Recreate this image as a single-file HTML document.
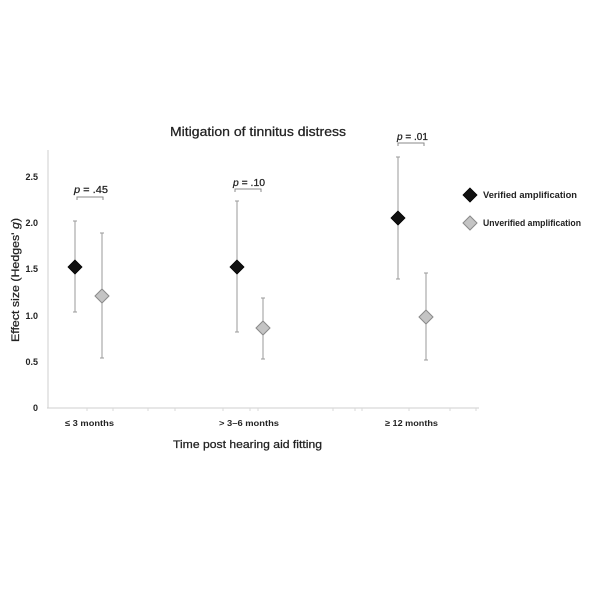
<!DOCTYPE html>
<html>
<head>
<meta charset="utf-8">
<style>
html,body{margin:0;padding:0;background:#fff;}
svg{display:block;}
text{font-family:"Liberation Sans",sans-serif;fill:#222;}
.med{stroke:#222;stroke-width:0.25;}
</style>
</head>
<body>
<svg width="600" height="600" viewBox="0 0 600 600" xmlns="http://www.w3.org/2000/svg">
<rect width="600" height="600" fill="#fff"/>
<!-- title -->
<text class="med" x="170" y="136" font-size="12.5" textLength="176" lengthAdjust="spacingAndGlyphs">Mitigation of tinnitus distress</text>
<!-- axes -->
<line x1="48" y1="150" x2="48" y2="408" stroke="#cfcfcf" stroke-width="1"/>
<line x1="47" y1="408" x2="479" y2="408" stroke="#cfcfcf" stroke-width="1"/>
<g stroke="#d8d8d8" stroke-width="1">
<line x1="87" y1="408" x2="87" y2="411"/>
<line x1="113" y1="408" x2="113" y2="411"/>
<line x1="148" y1="408" x2="148" y2="411"/>
<line x1="175" y1="408" x2="175" y2="411"/>
<line x1="223" y1="408" x2="223" y2="411"/>
<line x1="250" y1="408" x2="250" y2="411"/>
<line x1="258" y1="408" x2="258" y2="411"/>
<line x1="333" y1="408" x2="333" y2="411"/>
<line x1="355" y1="408" x2="355" y2="411"/>
<line x1="362" y1="408" x2="362" y2="411"/>
<line x1="409" y1="408" x2="409" y2="411"/>
<line x1="450" y1="408" x2="450" y2="411"/>
<line x1="476" y1="408" x2="476" y2="411"/>
</g>
<!-- y tick labels -->
<g font-size="9" font-weight="bold" text-anchor="end">
<text x="38" y="180">2.5</text>
<text x="38" y="226">2.0</text>
<text x="38" y="272">1.5</text>
<text x="38" y="319">1.0</text>
<text x="38" y="365">0.5</text>
<text x="38" y="411">0</text>
</g>
<!-- y axis title -->
<text class="med" transform="translate(19,280) rotate(-90)" font-size="11" text-anchor="middle" textLength="124" lengthAdjust="spacingAndGlyphs">Effect size (Hedges' <tspan font-style="italic">g</tspan>)</text>
<!-- x tick labels -->
<g font-size="8.5" font-weight="bold">
<text x="65" y="426" textLength="49" lengthAdjust="spacingAndGlyphs">≤ 3 months</text>
<text x="219" y="426" textLength="60" lengthAdjust="spacingAndGlyphs">&gt; 3–6 months</text>
<text x="385" y="426" textLength="53" lengthAdjust="spacingAndGlyphs">≥ 12 months</text>
</g>
<!-- x title -->
<text class="med" x="173" y="448" font-size="11" textLength="149" lengthAdjust="spacingAndGlyphs">Time post hearing aid fitting</text>
<!-- error bars -->
<g stroke="#9a9a9a" stroke-width="1">
<line x1="75" y1="221" x2="75" y2="312"/><line x1="73" y1="221" x2="77" y2="221"/><line x1="73" y1="312" x2="77" y2="312"/>
<line x1="102" y1="233" x2="102" y2="358"/><line x1="100" y1="233" x2="104" y2="233"/><line x1="100" y1="358" x2="104" y2="358"/>
<line x1="237" y1="201" x2="237" y2="332"/><line x1="235" y1="201" x2="239" y2="201"/><line x1="235" y1="332" x2="239" y2="332"/>
<line x1="263" y1="298" x2="263" y2="359"/><line x1="261" y1="298" x2="265" y2="298"/><line x1="261" y1="359" x2="265" y2="359"/>
<line x1="398" y1="157" x2="398" y2="279"/><line x1="396" y1="157" x2="400" y2="157"/><line x1="396" y1="279" x2="400" y2="279"/>
<line x1="426" y1="273" x2="426" y2="360"/><line x1="424" y1="273" x2="428" y2="273"/><line x1="424" y1="360" x2="428" y2="360"/>
</g>
<!-- markers -->
<g fill="#111" stroke="#000" stroke-width="0.8">
<path d="M75 260 L82 267 L75 274 L68 267 Z"/>
<path d="M237 260 L244 267 L237 274 L230 267 Z"/>
<path d="M398 211 L405 218 L398 225 L391 218 Z"/>
</g>
<g fill="#c4c4c4" stroke="#8a8a8a" stroke-width="1">
<path d="M102 289 L109 296 L102 303 L95 296 Z"/>
<path d="M263 321 L270 328 L263 335 L256 328 Z"/>
<path d="M426 310 L433 317 L426 324 L419 317 Z"/>
</g>
<!-- p brackets -->
<g stroke="#8a8a8a" stroke-width="1" fill="none">
<path d="M77 200 L77 197 L103 197 L103 200"/>
<path d="M235 192 L235 189 L261 189 L261 192"/>
<path d="M398 146 L398 143 L424 143 L424 146"/>
</g>
<g font-size="10" class="med">
<text x="74" y="193" textLength="34" lengthAdjust="spacingAndGlyphs"><tspan font-style="italic">p</tspan> = .45</text>
<text x="233" y="186" textLength="32" lengthAdjust="spacingAndGlyphs"><tspan font-style="italic">p</tspan> = .10</text>
<text x="397" y="140" textLength="31" lengthAdjust="spacingAndGlyphs"><tspan font-style="italic">p</tspan> = .01</text>
</g>
<!-- legend -->
<path d="M470 188 L477 195 L470 202 L463 195 Z" fill="#111" stroke="#000" stroke-width="0.8"/>
<path d="M470 216 L477 223 L470 230 L463 223 Z" fill="#c4c4c4" stroke="#8a8a8a" stroke-width="1"/>
<g font-size="9" font-weight="bold">
<text x="483" y="198" textLength="94" lengthAdjust="spacingAndGlyphs">Verified amplification</text>
<text x="483" y="226" textLength="98" lengthAdjust="spacingAndGlyphs">Unverified amplification</text>
</g>
</svg>
</body>
</html>
